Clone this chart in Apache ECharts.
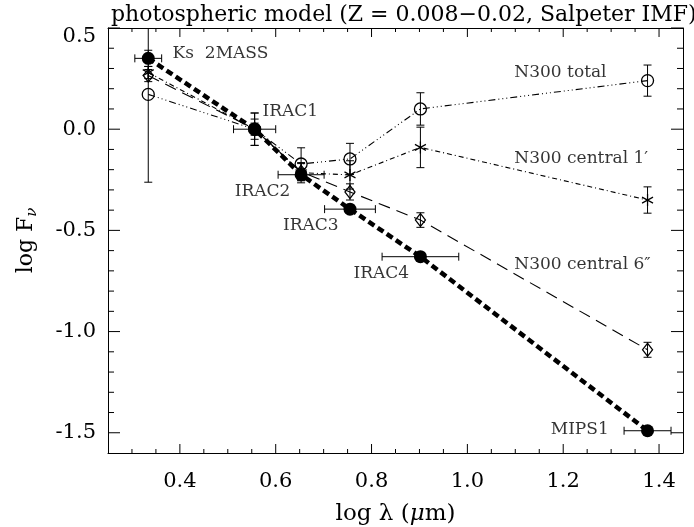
<!DOCTYPE html>
<html>
<head>
<meta charset="utf-8">
<script src="https://cdn.jsdelivr.net/npm/echarts@6/dist/echarts.min.js"></script>
<style>
  html, body { margin: 0; padding: 0; background: #fff; }
  #chart { width: 694px; height: 527px; }
</style>
</head>
<body>
<div id="chart"></div>
<script>
// log wavelength of each band (micron)
const bandX = [0.334, 0.556, 0.653, 0.755, 0.902, 1.376];
// photospheric model (filled symbols)
const modelY = [0.35, 0.0, -0.225, -0.395, -0.63, -1.49];
const modelYErr = [0.04, 0.03, 0.03, 0.0, 0.0, 0.0];
const bandHalfWidth = [0.028, 0.044, 0.048, 0.053, 0.08, 0.049];
// N300 measurements
const totalY = [0.172, 0.0, -0.172, -0.147, 0.10, 0.24];
const totalErr = [0.434, 0.08, 0.08, 0.077, 0.08, 0.077];
const central1Y = [0.28, 0.0, -0.215, -0.226, -0.09, -0.35];
const central1Err = [0.03, 0.08, 0.05, 0.07, 0.10, 0.065];
const central6Y = [0.265, 0.0, -0.21, -0.31, -0.449, -1.09];
const central6Err = [0.03, 0.05, 0.04, 0.04, 0.036, 0.037];

const xTicks = [0.4, 0.6, 0.8, 1.0, 1.2, 1.4];
const xMinorTicks = [0.3, 0.35, 0.45, 0.5, 0.55, 0.65, 0.7, 0.75, 0.85, 0.9, 0.95, 1.05, 1.1, 1.15, 1.25, 1.3, 1.35];
const yTicks = [-1.5, -1.0, -0.5, 0.0, 0.5];
const yMinorTicks = [-1.4, -1.3, -1.2, -1.1, -0.9, -0.8, -0.7, -0.6, -0.4, -0.3, -0.2, -0.1, 0.1, 0.2, 0.3, 0.4];

// text annotations: [text, left x, centre y] in data units
const notes = [
  ['Ks  2MASS', 0.3848, 0.375],
  ['IRAC1', 0.5723, 0.0865],
  ['IRAC2', 0.5146, -0.309],
  ['IRAC3', 0.6152, -0.478],
  ['IRAC4', 0.7625, -0.712],
  ['N300 total', 1.098, 0.279],
  ['N300 central 1\u2032', 1.098, -0.144],
  ['N300 central 6\u2033', 1.098, -0.671],
  ['MIPS1', 1.174, -1.486]
];

const X_MIN = 0.25, X_MAX = 1.45, Y_MIN = -1.6, Y_MAX = 0.5;
const FONT = "'DejaVu Serif', serif";
const INK = '#000';

const chart = echarts.init(document.getElementById('chart'));

function xAxisDef(pos) {
  const a = {
    type: 'value', position: pos, min: X_MIN, max: X_MAX,
    splitLine: { show: false },
    axisLine: { show: true, onZero: false, lineStyle: { color: INK, width: 1 } },
    axisTick: { show: false },
    axisLabel: { show: false }
  };
  if (pos === 'bottom') {
    a.axisLabel = {
      show: true, customValues: xTicks, margin: 18,
      fontFamily: FONT, fontSize: 21, color: INK,
      formatter: v => v.toFixed(1)
    };
    a.name = 'log \u03bb ({it|\u03bc}m)';
    a.nameLocation = 'middle';
    a.nameGap = 50;
    a.nameTextStyle = { fontFamily: FONT, fontSize: 23, color: INK,
      rich: { it: { fontFamily: FONT, fontStyle: 'italic', fontSize: 23 } } };
  }
  return a;
}

function yAxisDef(pos) {
  const a = {
    type: 'value', position: pos, min: Y_MIN, max: Y_MAX,
    splitLine: { show: false },
    axisLine: { show: true, onZero: false, lineStyle: { color: INK, width: 1 } },
    axisTick: { show: false },
    axisLabel: { show: false }
  };
  if (pos === 'left') {
    a.axisLabel = {
      show: true, customValues: yTicks, margin: 12,
      fontFamily: FONT, fontSize: 21, color: INK,
      formatter: v => (v === 0.5 ? '{top|0.5}' : v.toFixed(1)),
      rich: { top: { fontFamily: FONT, fontSize: 21, padding: [18, 0, 0, 0] } }
    };
    a.name = 'log F{sub|\u03bd}';
    a.nameLocation = 'middle';
    a.nameGap = 68;
    a.nameRotate = 90;
    a.nameTextStyle = { fontFamily: FONT, fontSize: 22, color: INK,
      rich: { sub: { fontFamily: FONT, fontStyle: 'italic', fontSize: 15, padding: [12, 0, 0, 0] } } };
  }
  return a;
}

function zip(xs, ys) { return xs.map((x, i) => [x, ys[i]]); }

const lineStyleOf = w => ({ stroke: INK, lineWidth: w, fill: null });

function vErrRender(params, api) {
  const lo = api.coord([api.value(0), api.value(1)]);
  const hi = api.coord([api.value(0), api.value(2)]);
  const c = 4, st = lineStyleOf(1);
  return { type: 'group', children: [
    { type: 'line', shape: { x1: lo[0], y1: lo[1], x2: hi[0], y2: hi[1] }, style: st },
    { type: 'line', shape: { x1: lo[0] - c, y1: lo[1], x2: lo[0] + c, y2: lo[1] }, style: st },
    { type: 'line', shape: { x1: hi[0] - c, y1: hi[1], x2: hi[0] + c, y2: hi[1] }, style: st }
  ] };
}

function hErrRender(params, api) {
  const l = api.coord([api.value(0), api.value(2)]);
  const r = api.coord([api.value(1), api.value(2)]);
  const c = 4, st = lineStyleOf(1);
  return { type: 'group', children: [
    { type: 'line', shape: { x1: l[0], y1: l[1], x2: r[0], y2: r[1] }, style: st },
    { type: 'line', shape: { x1: l[0], y1: l[1] - c, x2: l[0], y2: l[1] + c }, style: st },
    { type: 'line', shape: { x1: r[0], y1: r[1] - c, x2: r[0], y2: r[1] + c }, style: st }
  ] };
}

// inward ticks on all four sides of the frame
function xTickSeries(values, len) {
  return {
    type: 'custom', silent: true, clip: false, z: 2,
    data: values.map(v => [v, Y_MIN]), encode: { x: 0, y: 1 },
    renderItem: (params, api) => {
      const b = api.coord([api.value(0), Y_MIN]);
      const t = api.coord([api.value(0), Y_MAX]);
      const st = lineStyleOf(1);
      return { type: 'group', children: [
        { type: 'line', shape: { x1: b[0], y1: b[1], x2: b[0], y2: b[1] - len }, style: st },
        { type: 'line', shape: { x1: t[0], y1: t[1], x2: t[0], y2: t[1] + len }, style: st }
      ] };
    }
  };
}
function yTickSeries(values, len) {
  return {
    type: 'custom', silent: true, clip: false, z: 2,
    data: values.map(v => [X_MIN, v]), encode: { x: 0, y: 1 },
    renderItem: (params, api) => {
      const l = api.coord([X_MIN, api.value(1)]);
      const r = api.coord([X_MAX, api.value(1)]);
      const st = lineStyleOf(1);
      return { type: 'group', children: [
        { type: 'line', shape: { x1: l[0], y1: l[1], x2: l[0] + len, y2: l[1] }, style: st },
        { type: 'line', shape: { x1: r[0], y1: r[1], x2: r[0] - len, y2: r[1] }, style: st }
      ] };
    }
  };
}

function errSeries(ys, errs) {
  const data = bandX.map((x, i) => [x, ys[i] - errs[i], ys[i] + errs[i]]).filter(d => d[2] > d[1]);
  return { type: 'custom', clip: true, renderItem: vErrRender, data: data,
    encode: { x: 0, y: [1, 2] }, silent: true, z: 3 };
}

const openItem = { color: 'rgba(0,0,0,0)', borderColor: INK, borderWidth: 1.3 };
const ASTERISK = 'path://M0,0 L0,12 M-5.2,3 L5.2,9 M-5.2,9 L5.2,3';

const option = {
  animation: false,
  backgroundColor: '#fff',
  title: {
    text: 'photospheric model (Z = 0.008\u22120.02, Salpeter IMF)',
    left: 106, top: -1,
    textStyle: { fontFamily: FONT, fontSize: 22, fontWeight: 'normal', color: INK }
  },
  grid: { left: 108, right: 11, top: 28, bottom: 74, outerBoundsMode: 'none', containLabel: false },
  xAxis: [xAxisDef('bottom'), xAxisDef('top')],
  yAxis: [yAxisDef('left'), yAxisDef('right')],
  series: [
    xTickSeries(xMinorTicks, 4),
    xTickSeries(xTicks, 9),
    yTickSeries(yMinorTicks, 6),
    yTickSeries(yTicks, 12),
    errSeries(totalY, totalErr),
    errSeries(central1Y, central1Err),
    errSeries(central6Y, central6Err),
    errSeries(modelY, modelYErr),
    {
      type: 'custom', clip: true, renderItem: hErrRender, silent: true, z: 3,
      data: bandX.map((x, i) => [x - bandHalfWidth[i], x + bandHalfWidth[i], modelY[i]]),
      encode: { x: [0, 1], y: 2 }
    },
    {
      name: 'N300 total', type: 'line', data: zip(bandX, totalY),
      symbol: 'circle', symbolSize: 12, itemStyle: openItem,
      lineStyle: { color: INK, width: 1.1, type: [7, 3, 1, 3, 1, 3, 1, 3] }, z: 4
    },
    {
      name: 'N300 central 1', type: 'line', data: zip(bandX, central1Y),
      symbol: ASTERISK, symbolSize: [11, 12], itemStyle: openItem,
      lineStyle: { color: INK, width: 1.1, type: [5, 3, 1, 3] }, z: 4
    },
    {
      name: 'N300 central 6', type: 'line', data: zip(bandX, central6Y),
      symbol: 'diamond', symbolSize: [10, 13], itemStyle: openItem,
      lineStyle: { color: INK, width: 1.1, type: [12, 7] }, z: 4
    },
    {
      name: 'model', type: 'line', data: zip(bandX, modelY),
      symbol: 'circle', symbolSize: 13, itemStyle: { color: INK },
      lineStyle: { color: INK, width: 4.5, type: [7, 4] }, z: 5
    },
    {
      type: 'scatter', symbolSize: 0, silent: true, z: 6,
      data: notes.map(n => ({ name: n[0], value: [n[1], n[2]] })),
      label: {
        show: true, position: 'right', distance: 0, formatter: p => p.name,
        fontFamily: FONT, fontSize: 17, color: INK
      }
    }
  ]
};
option.series.forEach(s => { s.emphasis = { disabled: true }; });
chart.setOption(option);
</script>
</body>
</html>
